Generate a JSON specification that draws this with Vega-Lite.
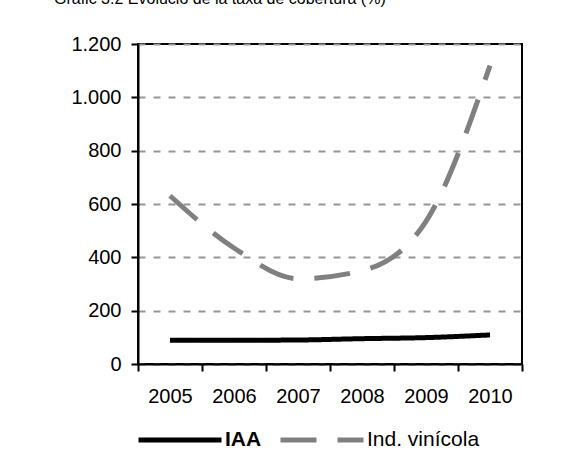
{
  "$schema": "https://vega.github.io/schema/vega-lite/v6.json",
  "autosize": "none",
  "width": 384,
  "height": 320,
  "padding": {"left": 138, "top": 44, "right": 49, "bottom": 109},
  "background": "white",
  "title": {
    "text": "Gràfic 3.2  Evolució de la taxa de cobertura (%)",
    "font": "Liberation Sans",
    "fontSize": 16,
    "fontWeight": "normal",
    "color": "black",
    "anchor": "start",
    "frame": "group",
    "dx": -84,
    "offset": 14,
    "baseline": "alphabetic"
  },
  "data": {
    "values": [
      {"year": "2005", "series": "IAA", "value": 89},
      {"year": "2006", "series": "IAA", "value": 89},
      {"year": "2007", "series": "IAA", "value": 90},
      {"year": "2008", "series": "IAA", "value": 95},
      {"year": "2009", "series": "IAA", "value": 99},
      {"year": "2010", "series": "IAA", "value": 109},
      {"year": "2005", "series": "Ind. vinícola", "value": 631},
      {"year": "2006", "series": "Ind. vinícola", "value": 435},
      {"year": "2007", "series": "Ind. vinícola", "value": 320},
      {"year": "2008", "series": "Ind. vinícola", "value": 350},
      {"year": "2009", "series": "Ind. vinícola", "value": 535},
      {"year": "2010", "series": "Ind. vinícola", "value": 1119}
    ]
  },
  "mark": {"type": "line", "strokeWidth": 5, "interpolate": "monotone"},
  "encoding": {
    "x": {
      "field": "year",
      "type": "ordinal",
      "scale": {"type": "band", "paddingInner": 0, "paddingOuter": 0},
      "axis": {
        "title": null,
        "labelAngle": 0,
        "tickBand": "extent",
        "grid": false,
        "domainColor": "black",
        "domainWidth": 2,
        "tickColor": "black",
        "tickWidth": 2,
        "tickSize": 7,
        "labelPadding": 15,
        "labelFont": "Liberation Sans",
        "labelFontSize": 20,
        "labelColor": "black"
      }
    },
    "y": {
      "field": "value",
      "type": "quantitative",
      "scale": {"domain": [0, 1200], "nice": false},
      "axis": {
        "title": null,
        "values": [0, 200, 400, 600, 800, 1000, 1200],
        "labelExpr": "replace(format(datum.value, ','), ',', '.')",
        "grid": true,
        "gridColor": "#969696",
        "gridDash": [7, 8],
        "gridWidth": 2,
        "domainColor": "black",
        "domainWidth": 2,
        "tickColor": "black",
        "tickWidth": 2,
        "tickSize": 7,
        "labelPadding": 10,
        "labelFont": "Liberation Sans",
        "labelFontSize": 20,
        "labelColor": "black"
      }
    },
    "color": {
      "field": "series",
      "type": "nominal",
      "scale": {"domain": ["IAA", "Ind. vinícola"], "range": ["#000000", "#808080"]},
      "legend": {
        "title": null,
        "orient": "none",
        "direction": "horizontal",
        "legendX": -2,
        "legendY": 352,
        "symbolType": "stroke",
        "symbolSize": 6889,
        "symbolStrokeWidth": 5,
        "labelFont": "Liberation Sans",
        "labelFontSize": 21,
        "labelColor": "black",
        "labelOffset": 1,
        "columnPadding": 8,
        "padding": 0,
        "encode": {
          "labels": {
            "update": {
              "fontWeight": {"signal": "datum.value === 'IAA' ? 'bold' : 'normal'"}
            }
          }
        }
      }
    },
    "strokeDash": {
      "field": "series",
      "type": "nominal",
      "scale": {"domain": ["IAA", "Ind. vinícola"], "range": [[1, 0], [36, 21]]},
      "legend": null
    }
  },
  "config": {
    "view": {"stroke": "black", "strokeWidth": 2},
    "font": "Liberation Sans"
  }
}
